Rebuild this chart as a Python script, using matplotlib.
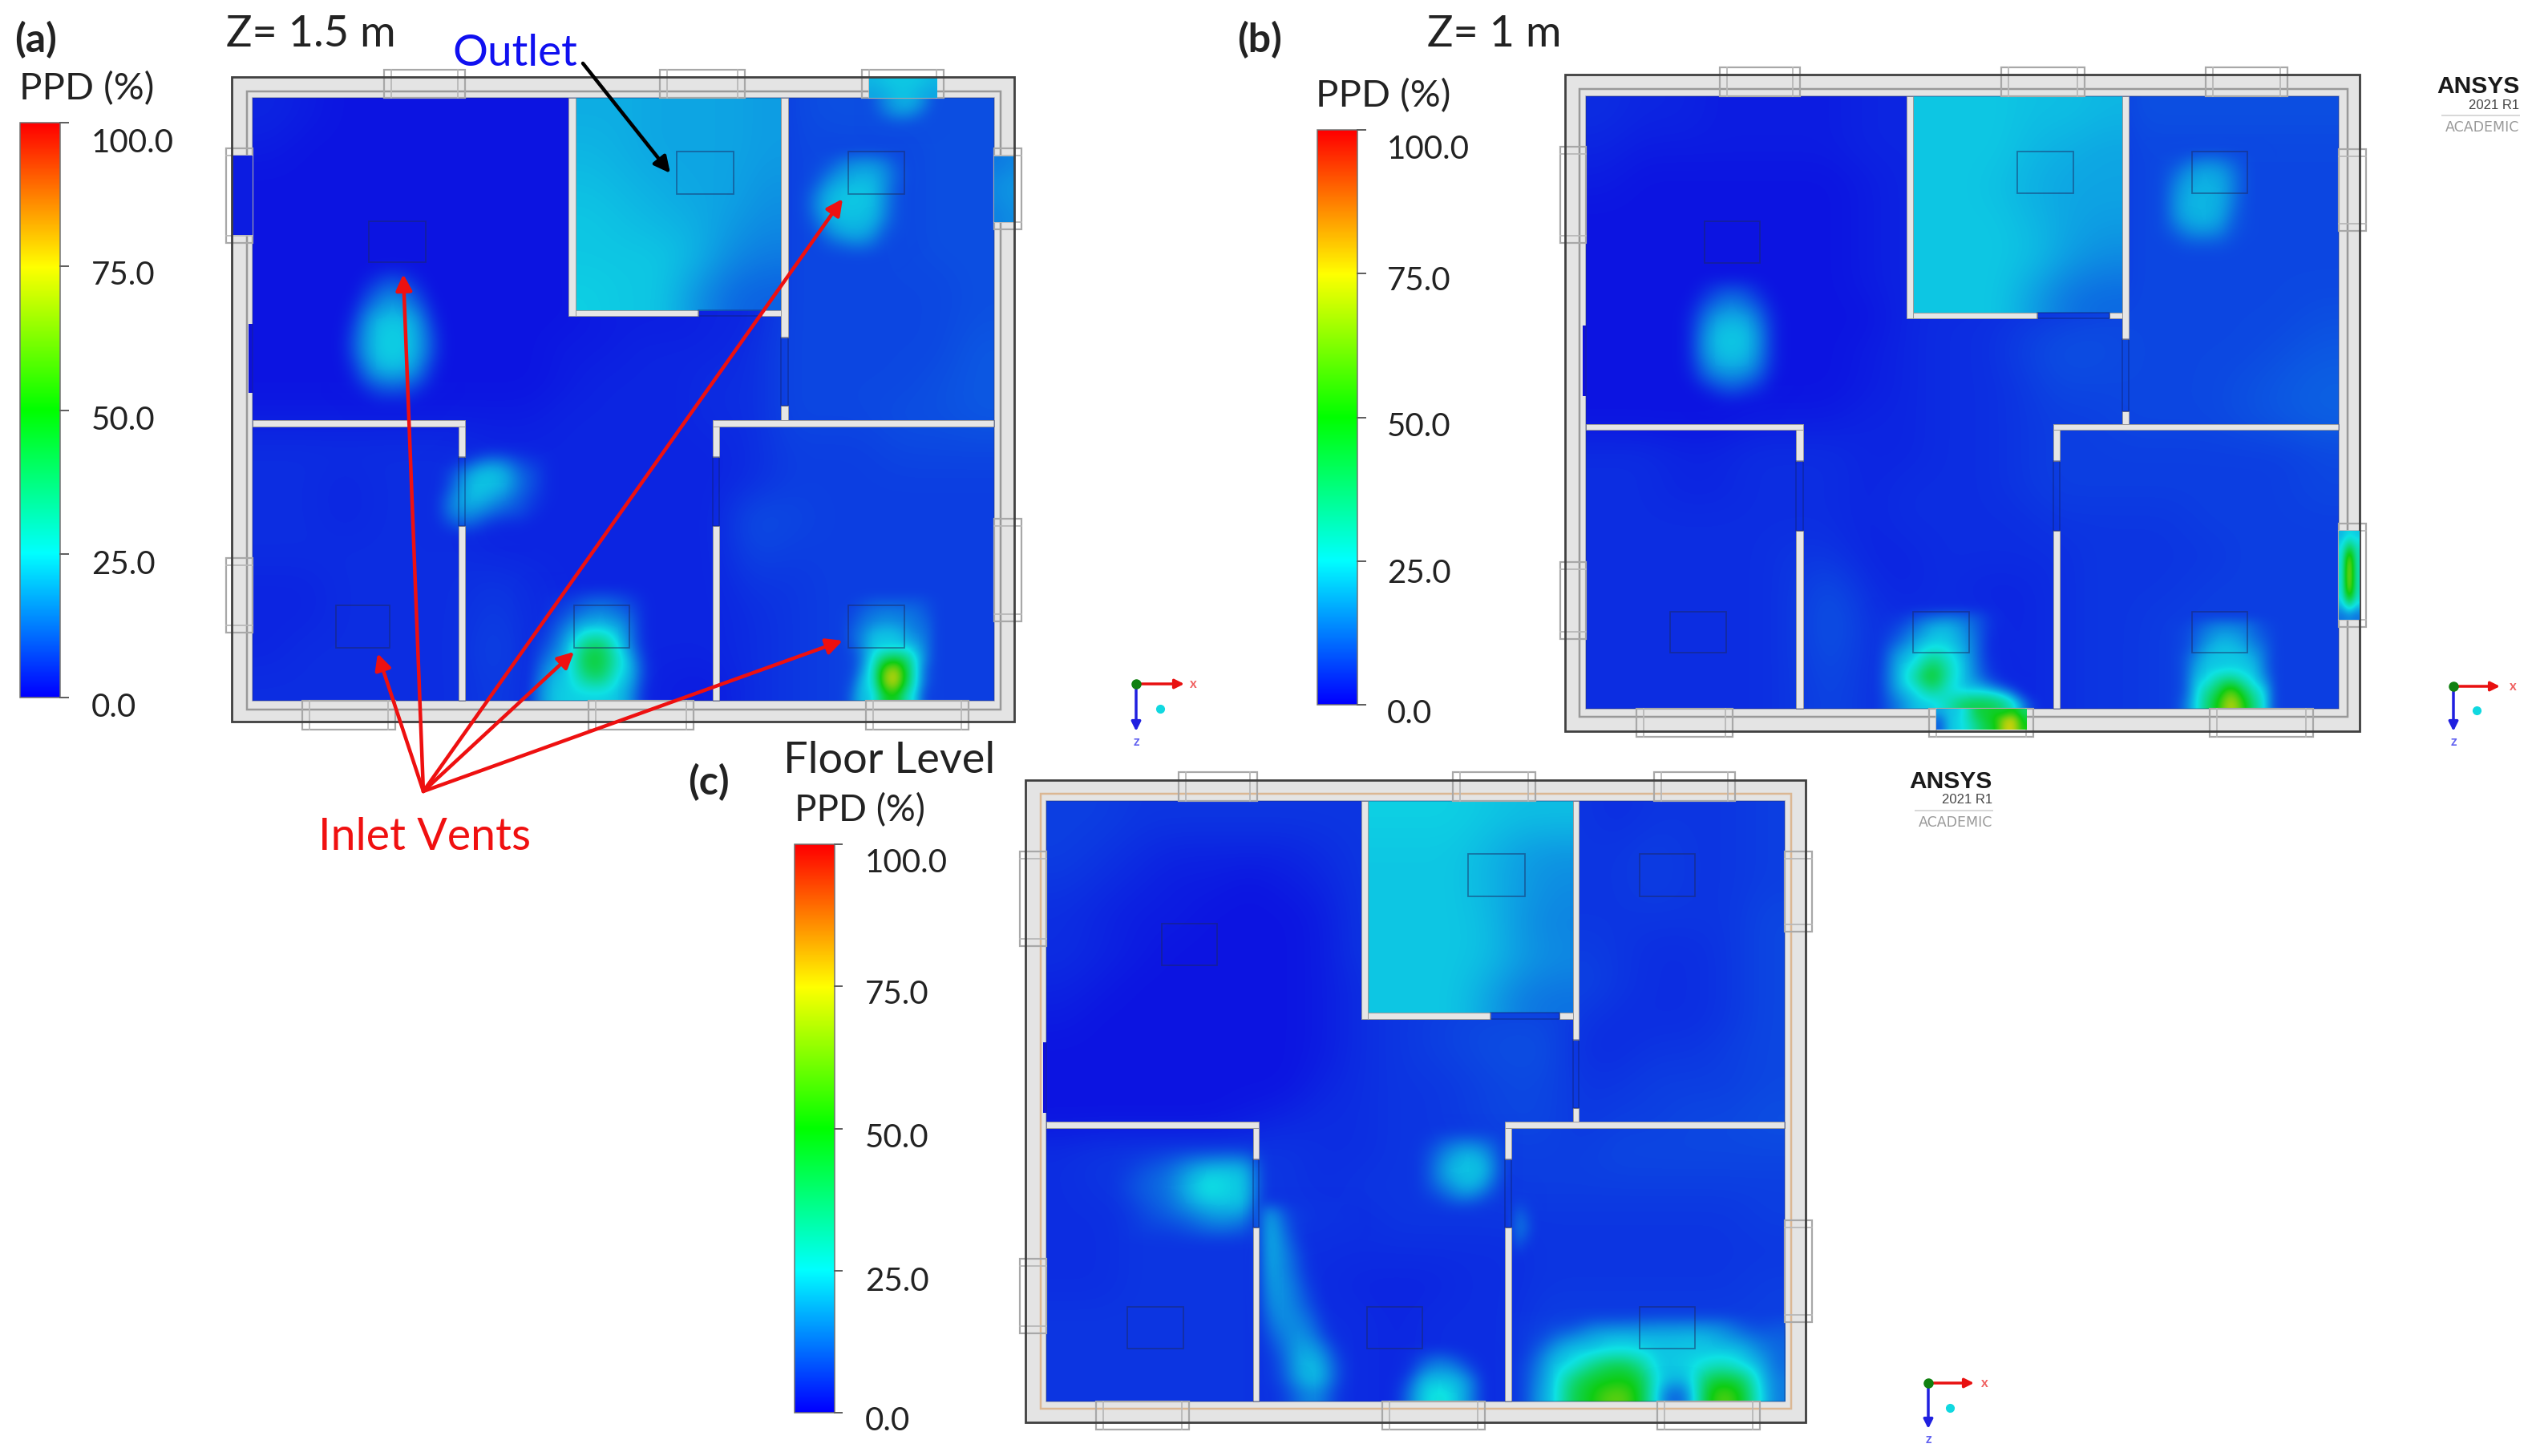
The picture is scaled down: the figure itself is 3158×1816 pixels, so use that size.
import numpy as np
import matplotlib
matplotlib.use("Agg")
import matplotlib.pyplot as plt
from matplotlib.colors import LinearSegmentedColormap
from matplotlib.patches import Rectangle

plt.rcParams['font.family'] = ['Lato', 'DejaVu Sans']

W, H = 3158, 1816

# ---------- PPD values (%), rows top to bottom ----------
# background level of each plan
field_a = [
 [3,2,1,1,1,1,1,1,1, 3,3,3,3,3, 7,8,8,8,8,8],
 [2,1,1,1,1,1,1,1,1, 3,3,3,3,3, 7,7,7,7,8,8],
 [1,1,1,1,1,1,1,1,1, 3,3,3,3,3, 7,7,7,7,8,8],
 [1,1,1,1,1,1,1,1,1, 3,3,3,3,3, 7,7,7,7,8,8],
 [1,1,1,1,1,1,1,1,1, 3,3,3,3,3, 7,7,7,7,8,8],
 [1,1,1,1,1,1,1,1,1, 3,3,3,3,3, 7,7,7,7,7,8],
 [1,1,1,1,1,1,1,1,1, 2,2,2,3,3, 7,7,7,7,7,8],
 [1,1,1,1,1,1,1,1,2, 2,3,3,3,4, 7,7,7,7,7,9],
 [1,1,1,1,1,1,1,1,2, 3,3,3,4,4, 7,7,7,7,8,9],
 [2,2,2,2,2,2,2,2,3, 3,3,3,4,4, 7,7,7,8,8,9],
 [4,4,4,4,4,4,3,3,3, 3,3,3,3,4, 6,6,6,7,7,7],
 [4,4,3,4,4,4,3,3,3, 3,3,3,3,4, 6,6,6,6,6,6],
 [4,4,3,4,4,4,3,3,3, 3,3,3,3,8, 7,6,6,6,6,6],
 [4,4,4,4,4,4,3,3,3, 3,3,3,3,7, 6,6,6,6,6,6],
 [3,3,4,4,4,4,5,4,3, 3,3,3,3,5, 5,6,6,6,6,6],
 [3,3,4,4,4,4,6,4,3, 3,3,3,3,4, 5,6,6,6,6,6],
 [3,4,4,4,4,4,7,4,3, 3,3,3,3,4, 5,6,6,6,6,6],
 [4,4,4,4,4,4,6,4,3, 3,3,2,2,4, 5,6,6,6,6,6],
]
room_a = [
 [19,19,18,18,18,17],
 [20,19,18,18,18,17],
 [21,20,19,18,18,16],
 [22,21,20,19,17,15],
 [22,22,22,20,15,13],
 [23,22,22,16,11,10],
]
field_b = [
 [4,3,3,2,2,2,2,3,3, 3,3,3,3,3, 8,8,8,8,8,8],
 [3,2,2,2,2,2,2,3,3, 3,3,3,3,3, 7,7,7,7,7,7],
 [2,1,1,1,1,1,1,2,3, 3,3,3,3,3, 7,7,7,7,7,7],
 [1,1,1,1,1,1,1,2,3, 3,3,3,3,3, 7,7,7,7,7,7],
 [1,1,1,1,1,1,1,2,3, 3,3,3,3,3, 7,7,7,7,7,7],
 [1,1,1,1,1,1,1,2,3, 3,3,3,3,3, 7,7,7,7,7,7],
 [1,1,1,1,1,1,1,1,3, 4,4,5,6,7, 7,7,7,7,7,8],
 [1,1,1,1,1,1,1,2,3, 4,4,6,8,8, 7,7,7,7,8,9],
 [1,1,1,1,1,1,1,2,3, 4,4,5,7,7, 7,7,7,8,9,10],
 [1,1,1,1,2,2,2,3,3, 4,4,5,6,6, 7,7,7,8,9,10],
 [4,4,3,3,4,4,4,3,3, 4,4,5,6,6, 6,6,6,6,6,7],
 [4,4,3,3,4,4,4,3,4, 4,4,5,6,6, 6,6,6,6,6,7],
 [4,4,4,4,4,4,4,3,4, 4,4,4,5,5, 5,5,6,6,6,6],
 [4,4,4,4,4,5,5,3,3, 4,4,4,4,5, 5,5,5,6,6,6],
 [4,4,4,4,4,5,8,4,3, 4,3,3,4,5, 5,5,6,6,6,6],
 [4,4,4,4,4,5,9,5,4, 4,4,3,4,5, 5,6,6,6,6,6],
 [4,4,4,4,4,5,8,5,4, 4,4,3,4,5, 5,6,6,6,6,6],
 [4,4,4,4,4,5,7,5,4, 4,4,3,4,5, 5,6,6,6,6,6],
]
room_b = [
 [22,22,22,21,21,20],
 [22,22,22,20,19,18],
 [22,22,21,19,18,18],
 [22,22,22,20,18,17],
 [22,22,22,21,17,15],
 [22,22,22,17,12,11],
]
field_c = [
 [6,6,5,5,5,5,5,5,5, 5,5,5,5,5, 5,4,5,5,5,6],
 [6,5,4,3,3,3,3,4,5, 5,5,5,5,5, 5,5,6,5,5,6],
 [5,4,3,2,2,1,2,3,5, 5,5,5,5,5, 5,5,6,5,5,6],
 [4,3,2,2,1,1,1,2,5, 5,5,5,5,5, 5,5,5,5,5,7],
 [4,3,2,1,1,1,1,2,5, 5,5,5,5,5, 6,5,4,4,5,7],
 [3,2,1,1,1,1,1,2,4, 5,5,5,5,5, 7,5,4,4,5,7],
 [2,1,1,1,1,1,1,2,4, 5,6,7,7,7, 5,4,4,4,5,7],
 [1,1,1,1,1,1,1,2,4, 5,6,7,8,8, 4,4,5,5,6,7],
 [1,1,1,1,1,1,1,3,4, 5,5,6,7,7, 5,5,6,6,6,7],
 [1,1,1,1,1,2,3,4,4, 5,5,6,7,7, 5,6,6,7,7,8],
 [4,5,5,5,5,5,5,4,4, 5,5,5,6,6, 6,7,7,7,7,7],
 [4,5,5,5,5,5,5,4,5, 5,5,5,6,6, 6,6,6,6,6,6],
 [4,4,5,5,5,5,5,5,4, 5,5,5,5,5, 5,5,5,5,5,6],
 [4,4,5,5,5,5,4,4,4, 4,4,4,4,5, 5,5,5,5,5,5],
 [4,4,5,5,5,5,4,4,3, 3,3,4,4,5, 5,5,5,5,5,6],
 [5,5,5,5,5,5,4,4,4, 3,4,4,4,6, 6,6,6,6,6,6],
 [5,5,5,5,5,5,4,4,4, 3,4,4,4,6, 6,6,6,6,6,6],
 [5,5,5,5,5,5,4,4,4, 3,4,4,4,6, 6,6,6,6,6,6],
]
room_c = [
 [23,23,23,22,21,21],
 [22,22,22,20,17,16],
 [22,22,22,20,17,15],
 [22,22,22,21,16,14],
 [22,22,22,21,17,15],
 [22,22,22,18,13,12],
]

# warm spots of plan (a)
a_spot_tl = [
 [1,2,4,5,4,2,1],[1,4,9,12,9,4,1],[2,7,14,18,14,7,2],[3,12,21,22,21,12,3],
 [4,14,22,23,22,14,4],[4,14,22,23,22,14,4],[3,10,19,21,19,10,3],[2,5,10,12,10,5,2],[1,2,4,4,4,2,1]]
a_spot_tr = [
 [8,9,12,15,15,11,8],[8,12,17,19,19,14,9],[10,18,21,22,21,13,8],[11,20,22,22,21,12,8],
 [10,18,21,21,20,11,8],[8,13,18,19,16,9,8],[7,9,10,11,10,8,7]]
a_spot_win = [[12,18,20,14],[10,15,15,10],[8,9,9,8]]
a_spot_door = [
 [3,4,6,9,8,6,5,4],[5,10,19,22,19,10,7,4],[5,14,22,22,20,11,7,4],
 [7,17,21,18,13,9,6,4],[7,15,15,11,8,7,5,3],[5,7,7,5,4,4,3,3]]
a_spot_mid = [
 [4,5,6,8,9,8,6,4],[4,6,9,13,15,12,9,4],[5,8,16,22,22,20,11,4],[6,11,21,38,42,24,12,4],
 [8,16,22,46,46,30,18,5],[11,21,22,38,42,24,20,5],[14,22,23,23,23,22,15,4]]
a_spot_br = [
 [6,7,8,9,9,9,9,9,8,7],[7,8,10,12,13,13,12,11,9,7],[7,9,12,14,16,15,14,12,10,7],
 [7,10,14,21,22,22,17,14,11,7],[7,9,15,22,22,22,22,18,11,7],[7,8,14,26,40,44,38,22,11,7],
 [7,8,17,28,62,72,44,22,9,7],[7,9,22,26,64,74,42,22,9,7],[7,11,22,22,46,50,30,20,7,7]]
# warm spots of plan (b)
b_spot_tl = [
 [1,3,5,6,5,3,1],[2,5,10,13,10,5,2],[3,9,17,19,17,9,3],[3,12,21,22,21,12,3],
 [3,13,21,22,21,12,3],[3,10,18,20,18,10,3],[2,6,11,13,11,6,2],[1,2,4,5,4,3,1]]
b_spot_tr = [
 [8,9,11,14,13,10,8],[8,11,17,19,18,12,8],[8,14,19,20,19,12,8],[8,15,20,20,19,11,8],
 [8,14,19,20,18,10,8],[8,10,14,15,13,9,8],[7,8,9,9,9,8,7]]
b_spot_mid = [
 [5,6,8,10,12,11,8,5,4,4],[6,8,13,20,21,15,9,5,4,4],[7,11,18,22,22,17,10,4,3,3],
 [8,18,22,30,26,19,10,4,3,3],[9,21,26,44,30,21,10,5,3,3],[10,21,34,52,30,21,12,6,3,3],
 [9,20,24,38,26,21,22,18,9,3],[8,14,22,22,30,42,44,42,30,9]]
b_spot_br = [
 [7,7,9,11,13,13,12,10,8,7],[7,8,10,14,17,17,15,11,9,7],[7,8,11,17,21,21,18,14,10,7],
 [7,9,15,21,22,22,22,18,11,7],[7,9,18,22,22,23,22,21,11,7],[7,9,21,24,34,38,30,22,15,7],
 [7,9,22,34,44,62,44,30,22,7],[7,11,22,38,52,74,54,36,22,7]]
# warm spots of plan (c)
c_spot_room = [
 [6,7,8,9,10,11,10],[7,9,11,17,22,22,21],[8,10,12,20,27,23,22],
 [7,9,11,17,22,22,22],[6,8,9,11,15,16,13],[6,7,7,8,9,9,8]]
c_spot_strip = [
 [18,9,6,5,5,5],[21,12,6,5,5,5],[21,14,7,4,4,4],[20,15,8,5,4,4],[19,15,9,5,4,4],
 [17,16,11,6,4,4],[15,16,12,7,4,4],[12,16,14,9,5,4],[9,14,16,12,6,4],[7,12,18,17,9,5],
 [6,10,19,21,13,6],[6,9,18,22,14,6],[5,7,12,15,9,5]]
c_spot_floor = [[5,7,9,7,5],[5,12,16,14,7],[7,21,22,21,13],[9,22,28,22,13]]
c_spot_hall = [
 [6,8,10,11,10,8],[7,11,17,21,18,9],[7,13,21,22,22,10],[7,11,16,21,17,8],[6,7,9,10,8,6]]
c_spot_side = [[7,6],[12,8],[14,9],[9,6]]
c_spot_br = [
 [7,7,8,8,10,11,11,12,13,13,13,13,12,9,8,9],
 [7,8,11,15,18,20,21,20,20,20,21,20,17,14,11,10],
 [7,10,18,22,22,24,25,24,22,22,22,22,22,21,15,11],
 [8,13,22,24,34,42,44,36,22,22,24,28,30,24,20,11],
 [8,15,22,38,46,48,50,46,24,20,22,44,46,42,22,13],
 [8,17,22,42,48,58,60,48,22,9,18,50,60,48,24,13]]

# small openings whose surface is coloured
win_a_top = [[20,22,22,22,20],[18,20,22,20,18]]
win_a_left = [[2],[2]]
win_a_right = [[13,14],[15,16],[15,16],[14,15]]
win_b_bottom = [[18,22,22,30,44,46,48,46,52,40],
                [12,22,23,30,40,46,50,66,72,46],
                [10,22,23,28,36,44,48,70,74,50]]
win_b_right = [[20,24,22],[24,45,30],[25,70,30],[25,74,30],[25,74,30],[25,68,30],[22,40,25],[12,14,12]]

cbar_ticks = [0, 25, 50, 75, 100]
cbar_tick_labels = ['0.0', '25.0', '50.0', '75.0', '100.0']

cmap_bar = LinearSegmentedColormap.from_list(
    'bar', ['#0000ff', '#00ffff', '#00ff00', '#ffff00', '#ff0000'], N=512)
cmap_field = LinearSegmentedColormap.from_list(
    'field', ['#0c0ce1', '#0ee1e4', '#0ecd14', '#e6d20a', '#e40e0e'], N=512)

# ---------- layout of the three plans, in picture pixels ----------
PANEL_A = dict(
    outer=(289, 96, 1265, 900), inner=(308, 114, 1248, 885), field=(315, 122, 1240, 874),
    room=(717, 122, 975, 388), data=field_a, room_data=room_a, inner_color='#808080',
    walls=[(709, 122, 718, 394), (718, 387, 871, 394), (950, 387, 974, 394),
           (974, 122, 983, 421), (974, 506, 983, 532), (315, 524, 580, 532),
           (889, 524, 1240, 532), (572, 532, 580, 570), (572, 656, 580, 874),
           (889, 532, 897, 570), (889, 656, 897, 874)],
    doors=[(871, 387, 950, 394), (974, 421, 983, 506), (572, 570, 580, 656), (889, 570, 897, 656)],
    tabs=[(479, 87, 580, 122), (823, 87, 929, 122), (1075, 87, 1177, 122),
          (282, 185, 315, 303), (282, 696, 315, 789),
          (1240, 185, 1274, 286), (1240, 647, 1274, 775),
          (377, 874, 493, 910), (734, 874, 865, 910), (1080, 874, 1208, 910)],
    vents=[(460, 276, 531, 327), (844, 189, 915, 242), (1058, 189, 1128, 242),
           (419, 755, 486, 808), (716, 755, 785, 808), (1058, 755, 1128, 808)],
    left_door=(310, 404, 316, 490),
    spots=[((420, 330, 560, 510), a_spot_tl, 1), ((1000, 190, 1140, 320), a_spot_tr, 7),
           ((1085, 122, 1165, 165), a_spot_win, 7), ((540, 560, 700, 670), a_spot_door, 3),
           ((660, 734, 820, 874), a_spot_mid, 3), ((1040, 739, 1180, 874), a_spot_br, 6)],
)
PANEL_B = dict(
    outer=(1952, 93, 2943, 912), inner=(1970, 111, 2928, 894), field=(1978, 120, 2917, 884),
    room=(2386, 120, 2647, 390), data=field_b, room_data=room_b, inner_color='#808080',
    walls=[(2378, 120, 2386, 397), (2386, 390, 2541, 397), (2631, 390, 2650, 397),
           (2647, 120, 2655, 423), (2647, 513, 2655, 536), (1978, 529, 2249, 536),
           (2561, 529, 2917, 536), (2240, 536, 2249, 575), (2240, 662, 2249, 884),
           (2561, 536, 2569, 575), (2561, 662, 2569, 884)],
    doors=[(2541, 390, 2631, 397), (2647, 423, 2655, 513), (2240, 575, 2249, 662), (2561, 575, 2569, 662)],
    tabs=[(2145, 84, 2245, 120), (2496, 84, 2600, 120), (2751, 84, 2853, 120),
          (1946, 183, 1978, 303), (1946, 701, 1978, 797),
          (2917, 186, 2951, 288), (2917, 653, 2951, 782),
          (2041, 884, 2161, 919), (2406, 884, 2536, 919), (2756, 884, 2885, 919)],
    vents=[(2126, 276, 2195, 328), (2516, 189, 2586, 241), (2734, 189, 2803, 241),
           (2083, 763, 2153, 814), (2386, 763, 2456, 814), (2734, 763, 2803, 814)],
    left_door=(1974, 406, 1979, 494),
    spots=[((2090, 345, 2230, 505), b_spot_tl, 1), ((2680, 190, 2820, 320), b_spot_tr, 7),
           ((2340, 760, 2540, 884), b_spot_mid, 4), ((2700, 770, 2850, 884), b_spot_br, 6)],
)
PANEL_C = dict(
    outer=(1279, 973, 2252, 1774), inner=(1298, 990, 2234, 1757), field=(1305, 999, 2226, 1748),
    room=(1706, 999, 1962, 1263), data=field_c, room_data=room_c, inner_color='#d8a878',
    walls=[(1698, 999, 1706, 1271), (1706, 1263, 1859, 1271), (1945, 1263, 1964, 1271),
           (1962, 999, 1969, 1297), (1962, 1382, 1969, 1407), (1305, 1399, 1570, 1407),
           (1877, 1399, 2226, 1407), (1563, 1407, 1570, 1446), (1563, 1531, 1570, 1748),
           (1877, 1407, 1885, 1446), (1877, 1531, 1885, 1748)],
    doors=[(1859, 1263, 1945, 1271), (1962, 1297, 1969, 1382), (1563, 1446, 1570, 1531), (1877, 1446, 1885, 1531)],
    tabs=[(1470, 963, 1568, 999), (1812, 963, 1915, 999), (2063, 963, 2164, 999),
          (1272, 1062, 1305, 1180), (1272, 1570, 1305, 1663),
          (2226, 1062, 2260, 1162), (2226, 1522, 2260, 1649),
          (1367, 1748, 1483, 1783), (1724, 1748, 1852, 1783), (2067, 1748, 2195, 1783)],
    vents=[(1449, 1152, 1518, 1204), (1831, 1065, 1902, 1118), (2045, 1065, 2114, 1118),
           (1406, 1630, 1476, 1682), (1705, 1630, 1774, 1682), (2045, 1630, 2114, 1682)],
    left_door=(1301, 1300, 1306, 1388),
    spots=[((1390, 1430, 1572, 1550), c_spot_room, 5), ((1570, 1500, 1690, 1748), c_spot_strip, 4),
           ((1740, 1680, 1850, 1748), c_spot_floor, 4), ((1760, 1410, 1880, 1510), c_spot_hall, 5),
           ((1885, 1485, 1915, 1565), c_spot_side, 5), ((1885, 1640, 2226, 1748), c_spot_br, 6)],
)

fig = plt.figure(figsize=(W / 100, H / 100), dpi=100, facecolor='white')
ax = fig.add_axes([0, 0, 1, 1])
PX = 0.72


def rect(box, **kw):
    x0, y0, x1, y1 = box
    ax.add_patch(Rectangle((x0, y0), x1 - x0, y1 - y0, **kw))


def surface(values, box, z=2, alpha=None):
    x0, y0, x1, y1 = box
    im = ax.imshow(np.array(values, dtype=float), cmap=cmap_field, vmin=0, vmax=100,
                   extent=(x0, x1, y1, y0), origin='upper', aspect='auto',
                   interpolation='bicubic', zorder=z, alpha=alpha)
    im.set_clip_path(Rectangle((x0, y0), x1 - x0, y1 - y0, transform=ax.transData))
    return im


def spot(box, values, bg, field):
    """Warm spot laid on the background; it fades out on every side inside the room."""
    v = np.array(values, dtype=float)
    x0, y0, x1, y1 = box
    fx0, fy0, fx1, fy1 = field
    dx = (x1 - x0) / v.shape[1]
    dy = (y1 - y0) / v.shape[0]
    left = int(x0 > fx0)
    right = int(x1 < fx1)
    top = int(y0 > fy0)
    bottom = int(y1 < fy1)
    v = np.pad(v, ((top, bottom), (left, right)), constant_values=bg)
    box2 = (x0 - left * dx, y0 - top * dy, x1 + right * dx, y1 + bottom * dy)
    a = np.clip((v - bg) / 4, 0, 1)
    surface(v, box2, z=2.4, alpha=a)


def plan(p):
    rect(p['outer'], fc='#e4e4e4', ec='none', zorder=1)
    surface(p['data'], p['field'], z=2)
    surface(p['room_data'], p['room'], z=2.2)
    for box, values, bg in p['spots']:
        spot(box, values, bg, p['field'])
    rect(p['left_door'], fc='#0c10dc', ec='none', zorder=2.5)
    for w in p['walls']:
        rect(w, fc='#e6e6e6', ec='#9a9a9a', lw=1.0 * PX, zorder=3)
    rect(p['inner'], fc='none', ec=p['inner_color'], lw=2.5 * PX, alpha=0.75, zorder=3.2)
    rect(p['field'], fc='none', ec='#203070', lw=1.5 * PX, alpha=0.4, zorder=3.3)
    for d in p['doors']:
        rect(d, fc='none', ec='#10206a', lw=1.5 * PX, alpha=0.5, zorder=3.4)
    for v in p['vents']:
        rect(v, fc='none', ec='#1c2860', lw=1.8 * PX, alpha=0.5, zorder=3.5)
    for x0, y0, x1, y1 in p['tabs']:
        rect((x0, y0, x1, y1), fc='none', ec='#a8a8a8', lw=2.2 * PX, zorder=3.6)
        if x1 - x0 > y1 - y0:
            ax.plot([x0 + 9, x0 + 9], [y0, y1], color='#b8b8b8', lw=1.8 * PX, zorder=3.6)
            ax.plot([x1 - 9, x1 - 9], [y0, y1], color='#b8b8b8', lw=1.8 * PX, zorder=3.6)
        else:
            ax.plot([x0, x1], [y0 + 9, y0 + 9], color='#b8b8b8', lw=1.8 * PX, zorder=3.6)
            ax.plot([x0, x1], [y1 - 9, y1 - 9], color='#b8b8b8', lw=1.8 * PX, zorder=3.6)
    rect(p['outer'], fc='none', ec='#404040', lw=2.8 * PX, zorder=3.7)


for panel in (PANEL_A, PANEL_B, PANEL_C):
    plan(panel)

surface(win_a_top, (1084, 96, 1169, 122), z=3.65)
surface(win_a_left, (289, 194, 315, 293), z=3.65)
surface(win_a_right, (1240, 195, 1265, 277), z=3.65)
surface(win_b_bottom, (2415, 884, 2528, 910), z=3.8)
surface(win_b_right, (2917, 662, 2943, 773), z=3.8)


def colorbar(x0, x1, y_top, y_bot, tick_end, label_x, label_offset):
    grad = np.linspace(100, 0, 400)[:, None]
    ax.imshow(grad, cmap=cmap_bar, vmin=0, vmax=100, extent=(x0, x1, y_bot, y_top),
              aspect='auto', interpolation='bilinear', zorder=2)
    rect((x0, y_top, x1, y_bot), fc='none', ec='#707070', lw=1.5 * PX, zorder=3)
    for v, s in zip(cbar_ticks, cbar_tick_labels):
        y = y_bot + (y_top - y_bot) * v / 100
        ax.plot([x1, tick_end], [y, y], color='#606060', lw=2 * PX, zorder=3)
        ax.text(label_x, y + label_offset[v], s, fontsize=29, color='#222222',
                ha='left', va='center', zorder=4)


colorbar(25, 75, 153, 870, 85, 114, {0: 12, 25: 14, 50: 13, 75: 11, 100: 25})
colorbar(1643, 1693, 162, 879, 1703, 1730, {0: 11, 25: 16, 50: 12, 75: 9, 100: 24})
colorbar(991, 1041, 1053, 1762, 1050, 1079, {0: 11, 25: 14, 50: 12, 75: 10, 100: 24})

TXT = '#222222'
ax.text(18, 50, '(a)', fontsize=36, fontweight='bold', color=TXT, va='center')
ax.text(1543, 50, '(b)', fontsize=36, fontweight='bold', color=TXT, va='center')
ax.text(858, 976, '(c)', fontsize=36, fontweight='bold', color=TXT, va='center')
ax.text(282, 43, 'Z= 1.5 m', fontsize=39, color=TXT, va='center')
ax.text(1780, 43, 'Z= 1 m', fontsize=39, color=TXT, va='center')
ax.text(977, 948, 'Floor Level', fontsize=39, color=TXT, va='center')
ax.text(24, 111, 'PPD (%)', fontsize=34, color=TXT, va='center')
ax.text(1641, 120, 'PPD (%)', fontsize=34, color=TXT, va='center')
ax.text(991, 1011, 'PPD (%)', fontsize=33, color=TXT, va='center')
ax.text(564, 66, 'Outlet', fontsize=39.5, color='#1010f0', va='center')
ax.text(397, 1044, 'Inlet Vents', fontsize=40, color='#f01010', va='center')


def arrow(start, end, color):
    ax.annotate('', xy=end, xytext=start, zorder=6,
                arrowprops=dict(arrowstyle='-|>', color=color, lw=4.5 * PX,
                                mutation_scale=30, shrinkA=0, shrinkB=0))


arrow((727, 79), (836, 216), 'black')
hub = (528, 987)
for tip in [(471, 815), (503, 342), (1051, 248), (716, 813), (1051, 799)]:
    arrow(hub, tip, '#ee1010')


def triad(ox, oy, xend, zend, xlab, zlab, dot):
    ax.annotate('', xy=(xend, oy), xytext=(ox, oy), zorder=5,
                arrowprops=dict(arrowstyle='-|>', color='#e81010', lw=3.5 * PX,
                                mutation_scale=17, shrinkA=0, shrinkB=0))
    ax.annotate('', xy=(ox, zend), xytext=(ox, oy), zorder=5,
                arrowprops=dict(arrowstyle='-|>', color='#2020e0', lw=3.5 * PX,
                                mutation_scale=17, shrinkA=0, shrinkB=0))
    ax.plot([ox], [oy], 'o', ms=8, color='#108010', zorder=6)
    ax.text(xlab, oy, 'x', fontsize=12, color='#f06060', ha='center', va='center', fontweight='bold')
    ax.text(ox, zlab, 'z', fontsize=12, color='#6060f0', ha='center', va='center', fontweight='bold')
    ax.plot([dot[0]], [dot[1]], 'o', ms=7, color='#10d8e0', zorder=5)


triad(1417, 853, 1477, 912, 1488, 925, (1447, 884))
triad(3060, 856, 3118, 912, 3134, 925, (3089, 886))
triad(2405, 1725, 2462, 1782, 2475, 1795, (2432, 1756))


def logo(xr, y):
    ax.text(xr, y, 'ANSYS', fontsize=21.5, fontweight='bold', family='Liberation Sans',
            ha='right', va='center', color='#1a1a1a')
    ax.text(xr, y + 23, '2021 R1', fontsize=12, family='Liberation Sans',
            ha='right', va='center', color='#444444')
    ax.plot([xr - 96, xr], [y + 36, y + 36], color='#d8d8d8', lw=2 * PX)
    ax.text(xr, y + 51, 'ACADEMIC', fontsize=12.5, family='DejaVu Sans',
            ha='right', va='center', color='#999999')


logo(2485, 975)
logo(3142, 108)

ax.set_xlim(0, W)
ax.set_ylim(H, 0)
ax.axis('off')
fig.savefig('out.png', dpi=100, facecolor='white')
